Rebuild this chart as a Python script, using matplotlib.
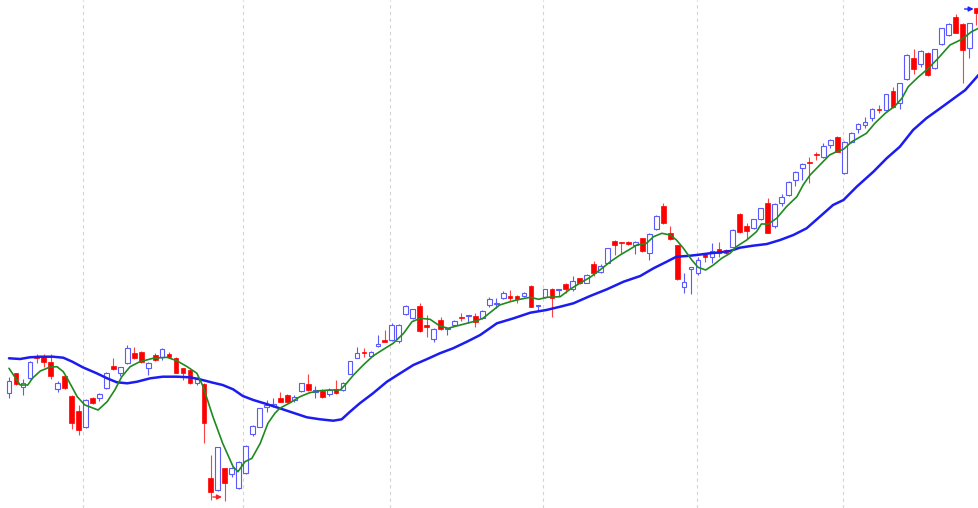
import matplotlib
matplotlib.use('Agg')
import matplotlib.pyplot as plt
import numpy as np

opens = [115.3, 134.7, 120.7, 129.7, 152, 150.7, 146.3, 118.7, 132, 112,
         97, 81.3, 110, 110, 119.7, 142, 135.3, 144.7, 154.7, 156.3,
         139.7, 153, 151.3, 154, 150.3, 139.7, 138, 125.3, 124, 29.7,
         18, 39.7, 34, 19.7, 34.7, 74, 81.3, 101, 102, 109.7,
         113, 108, 117, 124, 116.3, 117, 113.7, 119, 118, 134,
         150.3, 156, 152, 162, 168, 168, 167, 193.7, 189.7, 202,
         183, 168.7, 188, 179, 183, 191, 192, 192, 189.7, 203,
         204, 209.7, 212, 212, 212, 222, 202.5, 210.7, 218.7, 217.7,
         224, 218.7, 229.7, 225.3, 243.7, 236.3, 245.3, 267, 265.3, 266.3,
         263, 269.7, 255.3, 278.7, 302, 275.3, 263, 220.7, 239.5, 234.7,
         253.7, 251.3, 259, 258, 261.3, 294, 282, 279.7, 288.7, 305.3,
         282, 304.7, 313, 328, 339.7, 346.3, 354, 351.3, 363, 371.3,
         334.7, 366.3, 378.7, 383, 389.7, 399, 398, 417.3, 404.7, 428.7,
         449.7, 444, 455.3, 439.7, 464, 473, 490.7, 484, 459.7, 499.7]

highs = [131.3, 135.3, 128.7, 147.3, 154, 154, 153.7, 127.3, 133, 112.7,
         103, 108.7, 111.3, 114.7, 136.3, 149.7, 141.3, 163, 161.3, 157.3,
         146.3, 154.7, 160, 156.3, 151.3, 140.3, 138.7, 131.3, 124.7, 53,
         61.3, 40.3, 41.3, 47, 63, 83, 100, 108, 110, 116.3,
         113.7, 113, 125.3, 133.7, 122, 119.3, 120, 128, 126, 147.3,
         161.3, 159.7, 157.3, 173, 178, 184.7, 183.7, 202.7, 199.3, 204.7,
         193, 179.7, 191.3, 180.3, 188, 194.7, 193, 194.7, 198, 210.7,
         210, 217, 218, 213, 216.3, 223, 203.5, 219, 219.7, 219,
         224.7, 232, 230.3, 233.7, 247.3, 244, 260, 268, 266.3, 267,
         267.3, 270.3, 274.7, 292.7, 305.3, 282, 263.5, 235.3, 241, 251.3,
         254.7, 264.7, 266.3, 258.7, 278.7, 295.3, 284.7, 289.3, 300.3, 309.7,
         304.7, 313.7, 327, 337.3, 344.7, 350.7, 356.3, 364.7, 368.7, 372.3,
         367.3, 376.3, 384.7, 391.3, 399.7, 403, 414.3, 421.3, 425.3, 453.7,
         458.7, 458, 456, 459.3, 480.3, 484.7, 494, 484.7, 485.3, 499.7]

lows = [109.7, 123, 113, 129, 145, 141.3, 128.7, 116.3, 118.7, 79.3,
        73, 79.7, 104, 107.3, 118.7, 138, 132, 143.7, 148.7, 144.7,
        133, 147.3, 148, 150.7, 134.7, 128, 124, 123, 64.7, 8,
        17.3, 7.3, 31.3, 19, 34, 72, 80.7, 96.3, 101.5, 106,
        105.7, 106.3, 116.3, 117.3, 109.7, 109.7, 112, 114, 117.3, 133.7,
        149.7, 151.3, 151.3, 161.5, 166, 167.3, 165.3, 193, 189, 176.3,
        171.3, 166.3, 178, 173, 182.3, 187, 185.3, 181.3, 189, 201.3,
        200, 208.7, 207, 205.3, 210.7, 200.7, 197.3, 210, 191.3, 212,
        214.7, 217.3, 224, 224.7, 232, 234.7, 244.7, 253, 254.7, 263,
        254, 256.3, 248, 278, 283.7, 268, 228, 214.7, 214, 233,
        246.3, 244.7, 251.3, 253.7, 260.7, 275.3, 268.7, 279, 288, 274.7,
        279.7, 302, 312, 322, 328, 324.7, 348, 349.7, 359.7, 355.7,
        334, 364.7, 374.7, 379.7, 387.3, 394.7, 397.3, 399.7, 398.7, 428,
        434, 441.3, 432.3, 439, 463.3, 472, 474.7, 425.3, 449.7, 483]

closes = [127.3, 124, 125.3, 146.3, 150.5, 146.3, 132, 125.3, 119.7, 85.3,
          78, 108, 105.3, 113.7, 134.7, 138.7, 140.7, 159.7, 149.7, 146.3,
          145.3, 148, 159, 151.3, 135.3, 134.7, 124.7, 128.7, 85.3, 16.3,
          60.7, 24.7, 40.3, 46.3, 62, 82.3, 99.7, 103, 104, 106.3,
          106.3, 111.3, 124.7, 118, 118, 111.3, 118, 114.7, 125.3, 147,
          155.3, 155, 156.3, 164, 166.3, 183, 183, 202, 198.7, 177.3,
          181.3, 178.7, 178.7, 180, 187.3, 190, 193, 186.3, 197.3, 208.7,
          205, 215.3, 209.7, 208.7, 215.3, 201.3, 203.5, 218.7, 209.7, 218.7,
          219, 227.3, 224.7, 233, 235.3, 242, 259.7, 263, 264.7, 264,
          266.3, 257, 273.7, 292, 284.7, 268.7, 228.7, 226.3, 240.7, 248,
          250.7, 257, 254.7, 254.7, 278, 276.3, 277.3, 288.7, 299.7, 275.3,
          303.7, 311.3, 326.3, 336.3, 343.7, 345.3, 353, 362, 368, 356.3,
          366.3, 374.7, 383.7, 386.3, 398.7, 398, 413.7, 400.7, 424.7, 453,
          438.7, 457.3, 433, 458.7, 479.7, 483.7, 475.3, 458, 484.7, 495.3]

# short moving average (green), read at candle positions
green_idx = [0, 1.6, 2.7, 3.4, 4.5, 5.9, 6.9, 7.8, 8.5, 9.8, 10.9, 12.8, 14.1, 15.2,
             16.2, 17.4, 18.8, 20.7, 22.7, 24.1, 25.6, 27, 27.9, 29.3, 30.7, 32.2,
             32.9, 33.9, 34.9, 36.1, 37.2, 38.2, 38.9, 40.4, 41.8, 43.2, 44.7, 46.1,
             47.6, 48.5, 49.5, 50.9, 52.3, 53.8, 55.2, 56.7, 57.9, 59.1, 60.5, 61.9,
             63.1, 64.3, 65.8, 67.2, 68.1, 69.1, 70.5, 72, 73.4, 74.9, 76.1, 77.3,
             79.2, 80.6, 82, 83.5, 84.9, 86.4, 87.8, 89.2, 90.2, 91.6, 92.6, 93.8,
             95, 95.9, 96.9, 98.1, 99, 100.1, 101.2, 102.4, 103.6, 104.5, 106, 107.4,
             108.1, 109.1, 110.3, 111.7, 113.2, 114.1, 115.1, 116.5, 117.9, 118.9,
             119.9, 121.1, 123.2, 124.4, 125.9, 127.3, 128.3, 129.2, 130.6, 132.1,
             133.5, 135.2, 136.9, 138.3, 139.3]
green_ma = [139.7, 123, 123, 130, 137, 141, 141.3, 136.3, 128, 111.3, 103, 98, 106.3, 118,
            131.3, 141.3, 146.3, 149.7, 150.7, 147.3, 141.3, 134.7, 121.3, 91.3, 64.7, 41.3,
            36.3, 46.3, 49.7, 64.7, 84.7, 94.7, 99.7, 105.3, 111.3, 115.3, 117.3, 118,
            118, 124.7, 133, 143, 152, 158.7, 164.7, 174.7, 186.3, 189.7, 188.7, 182,
            179.7, 182, 184.7, 187.3, 189.7, 195.3, 203, 206.3, 208.7, 210.7, 208.7, 210.7,
            211.3, 218.7, 224.7, 230.7, 238, 246.3, 253, 258.7, 263, 264.7, 271.3, 274.7,
            273, 268, 259.7, 248, 240.7, 238, 243, 249.7, 254.7, 261.3, 268, 276.3,
            284, 284, 289.7, 301.3, 311.3, 323, 333, 343, 353, 356.3,
            358.7, 366.3, 374.7, 384.7, 394.7, 402, 409.7, 421.3, 430.7, 439.7,
            449.7, 463, 468.7, 476.3, 479.7]

# long moving average (blue)
blue_idx = [0, 1.6, 3, 4.5, 6.3, 7.8, 9.1, 10.6, 12.6, 14.1, 15.5, 17, 18.4, 20.3, 22.1,
            24.1, 26, 27.4, 29.3, 30.7, 32.2, 33.6, 35.1, 37, 38.9, 40.8, 42.8, 44.7,
            46.6, 47.8, 49, 50.4, 52.3, 54.3, 56.2, 58.1, 60, 61.9, 63.8, 65.8, 67.7,
            70.1, 72.5, 74.9, 77.2, 79.2, 81.1, 83.5, 85.9, 88.3, 90.7, 92.6, 94.5,
            95.9, 97.4, 98.8, 100.7, 102.2, 103.6, 105, 106.9, 108.9, 110.8, 112.7,
            114.6, 116.5, 118.4, 119.9, 121.8, 124.2, 126.1, 128, 129.9, 131.8, 133.8,
            137.4, 139.3]
blue_ma = [149.7, 149, 150.7, 151.3, 151.3, 150.3, 146.3, 140.7, 134.7, 129.7, 125.7, 124.7,
           126.3, 129.7, 131.3, 131.3, 130.7, 128.7, 125.3, 123, 118.7, 112, 108, 104, 99.7,
           95.3, 90.7, 88.7, 87.3, 88.7, 96.3, 104.7, 114.7, 126.3, 134.7, 143, 148.7,
           154.7, 159.7, 166.3, 173, 184.7, 189.7, 195.3, 198, 201.3, 204.7, 212, 218.7,
           226.3, 232, 239.7, 246.3, 251.3, 252, 253, 254.7, 255.7, 257, 260.3, 262.3,
           264, 268, 273, 279.7, 291.3, 303, 308, 321.3, 336.3, 349.7, 361.3, 378,
           389.7, 399.7, 418, 433]

# month separators (between candles)
month_breaks = [10.6, 33.6, 54.7, 76.7, 98.9, 119.8]

# event arrows (start index, price)
event_idx = [29.3, 137.3]
event_price = [11, 499]
event_colors = ['#ff2020', '#2020ff']

o = np.array(opens); h = np.array(highs); l = np.array(lows); c = np.array(closes)
x = np.arange(len(o))
up = c >= o

up_col = '#5a5aff'
dn_col = '#ff0000'

fig = plt.figure(figsize=(9.79, 5.08), dpi=100)
ax = fig.add_axes([0, 0, 1, 1])

for g in month_breaks:
    ax.axvline(g, color='#d4d4d4', lw=0.8, ls=(0, (3, 3)), zorder=0)

ax.vlines(x[up], l[up], h[up], color=up_col, lw=0.8, zorder=2)
ax.vlines(x[~up], l[~up], h[~up], color='#ff4040', lw=0.8, zorder=2)

bottoms = np.minimum(o, c)
heights = np.maximum(np.abs(c - o), 1.0)
bw = 0.68
ax.bar(x[up], heights[up], bottom=bottoms[up], width=bw, facecolor='white',
       edgecolor=up_col, linewidth=0.8, zorder=3)
ax.bar(x[~up], heights[~up], bottom=bottoms[~up], width=bw, facecolor=dn_col,
       edgecolor=dn_col, linewidth=0.5, zorder=3)

ax.plot(blue_idx, blue_ma, color='#1c1cf0', lw=1.8, zorder=4,
        solid_capstyle='round', solid_joinstyle='round')
ax.plot(green_idx, green_ma, color='#1f8a1f', lw=1.2, zorder=5,
        solid_capstyle='round', solid_joinstyle='round')

for xi, yi, col in zip(event_idx, event_price, event_colors):
    ax.annotate('', xy=(xi + 1.3, yi), xytext=(xi, yi),
                arrowprops=dict(arrowstyle='-|>', color=col, lw=1.0,
                                mutation_scale=7, shrinkA=0, shrinkB=0), zorder=6)

ax.set_xlim(-1.293, 139.37)
ax.set_ylim(0, 508)
ax.axis('off')

fig.savefig('out.png', dpi=100, facecolor='white')
